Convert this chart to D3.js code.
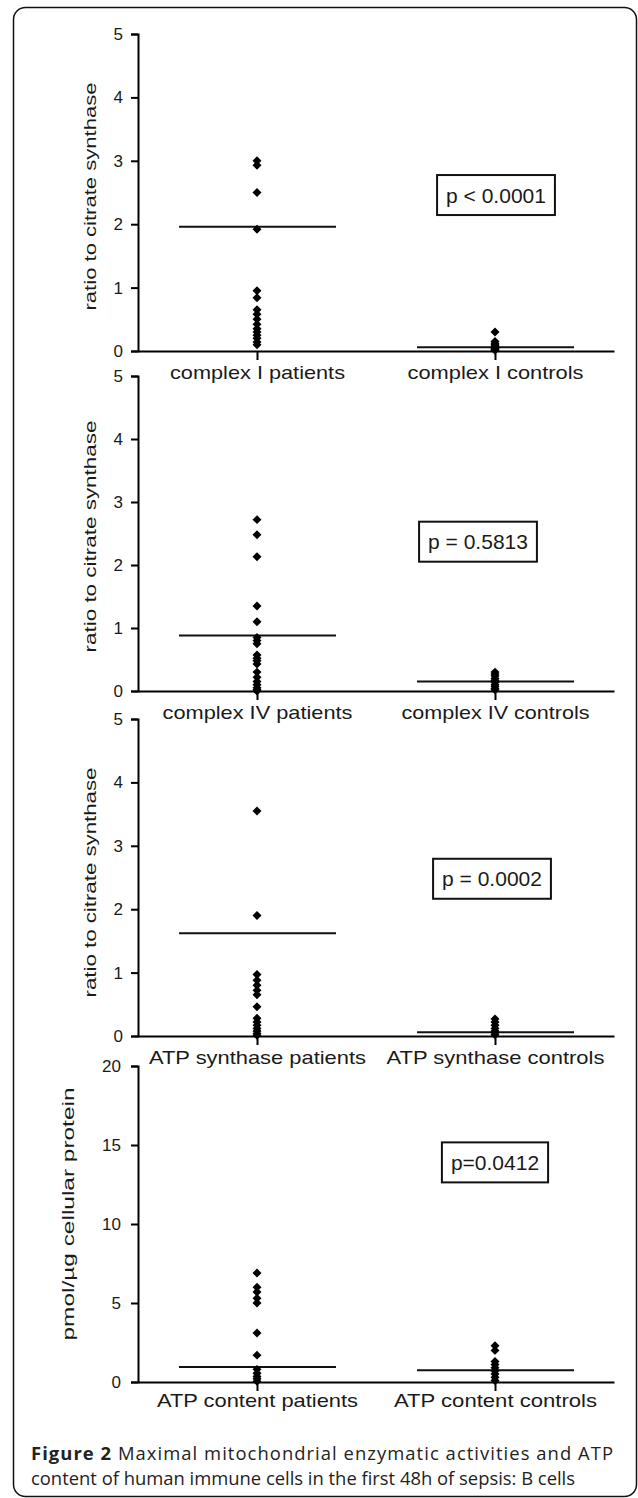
<!DOCTYPE html>
<html>
<head>
<meta charset="utf-8">
<script src="https://cdn.jsdelivr.net/npm/d3@7"></script>
<style>
  body { margin: 0; background: #fff; }
  svg { display: block; }
</style>
</head>
<body>
<div id="chart"></div>
<script>
// data //

const cats1 = ["complex I patients", "complex I controls"];
const cats2 = ["complex IV patients", "complex IV controls"];
const cats3 = ["ATP synthase patients", "ATP synthase controls"];
const cats4 = ["ATP content patients", "ATP content controls"];

const complex1Patients = [3.0, 2.93, 2.5, 1.92, 0.95, 0.84, 0.65, 0.58, 0.5, 0.42, 0.35, 0.3, 0.25, 0.2, 0.14, 0.1];
const complex1Controls = [0.3, 0.15, 0.12, 0.1, 0.08, 0.06, 0.05, 0.04, 0.03, 0.02, 0.01];
const complex4Patients = [2.72, 2.48, 2.13, 1.35, 1.1, 0.85, 0.8, 0.75, 0.57, 0.52, 0.48, 0.43, 0.3, 0.22, 0.15, 0.1, 0.05, 0.02, 0];
const complex4Controls = [0.3, 0.27, 0.24, 0.2, 0.17, 0.14, 0.1, 0.07, 0.04, 0.02];
const atpSynPatients = [3.55, 1.9, 0.97, 0.88, 0.8, 0.72, 0.65, 0.46, 0.28, 0.22, 0.17, 0.12, 0.08, 0.04, 0.01];
const atpSynControls = [0.27, 0.22, 0.17, 0.12, 0.08, 0.05, 0.02];
const atpContPatients = [6.9, 6.0, 5.7, 5.3, 5.0, 3.1, 1.7, 0.8, 0.55, 0.35, 0.2, 0.05];
const atpContControls = [2.3, 2.0, 1.3, 1.1, 0.9, 0.7, 0.5, 0.3, 0.1];

// medians (patients, controls)
const medians1 = [1.96, 0.06];
const medians2 = [0.88, 0.15];
const medians3 = [1.62, 0.06];
const medians4 = [0.95, 0.74];

const ticksRatio = [0, 1, 2, 3, 4, 5];
const ticksAtp = [0, 5, 10, 15, 20];

const pLabels = ["p < 0.0001", "p = 0.5813", "p = 0.0002", "p=0.0412"];
const pAnchors = [2.46, 2.37, 2.48, 13.9];   // y value of box centre

const yTitles = ["ratio to citrate synthase", "ratio to citrate synthase", "ratio to citrate synthase", "pmol/µg cellular protein"];

// layout //

const W = 638, H = 1498;
const axisX = 138, axisRight = 614;
const FONT = "'Liberation Sans', Arial, sans-serif";

const panels = [
  { cats: cats1, pat: complex1Patients, con: complex1Controls, med: medians1, ticks: ticksRatio, top: 34,   bottom: 351,  titleX: 90, titleDy: 4,  titleLen: 228, labW: [175, 176], pDx: 1 },
  { cats: cats2, pat: complex4Patients, con: complex4Controls, med: medians2, ticks: ticksRatio, top: 376,  bottom: 691,  titleX: 90, titleDy: 3,  titleLen: 232, labW: [190, 188], pDx: -17 },
  { cats: cats3, pat: atpSynPatients,   con: atpSynControls,   med: medians3, ticks: ticksRatio, top: 719,  bottom: 1036, titleX: 90, titleDy: 5,  titleLen: 230, labW: [217, 218], pDx: -3 },
  { cats: cats4, pat: atpContPatients,  con: atpContControls,  med: medians4, ticks: ticksAtp,   top: 1066, bottom: 1382, titleX: 68, titleDy: -10, titleLen: 253, labW: [201, 203], pDx: 0 }
];

const svg = d3.select("#chart")
  .append("svg")
    .attr("width", W)
    .attr("height", H);

// outer frame
svg.append("rect")
  .attr("x", 13.5).attr("y", 7.5)
  .attr("width", 623).attr("height", 1489)
  .attr("rx", 12).attr("ry", 12)
  .attr("fill", "none")
  .attr("stroke", "#111")
  .attr("stroke-width", 1.5);

const diamond = d3.symbol().type(d3.symbolSquare).size(40);

panels.forEach((p, k) => {
  const x = d3.scalePoint()
    .domain(p.cats)
    .range([axisX, axisRight])
    .padding(0.5);

  const y = d3.scaleLinear()
    .domain([0, d3.max(p.ticks)])
    .range([p.bottom, p.top]);

  const g = svg.append("g");

  // y axis
  g.append("g")
    .attr("transform", `translate(${axisX},0)`)
    .call(d3.axisLeft(y)
      .tickValues(p.ticks)
      .tickFormat(d3.format("d"))
      .tickSize(7)
      .tickPadding(k === 3 ? 10 : 8))
    .attr("font-family", FONT)
    .attr("font-size", 17)
    .call(a => a.select(".domain").attr("stroke-width", 2))
    .call(a => a.selectAll(".tick line").attr("stroke-width", 2))
    .selectAll(".tick text")
      .attr("fill", "#1a1a1a");

  // x axis
  const xa = g.append("g")
    .attr("transform", `translate(0,${p.bottom})`)
    .call(d3.axisBottom(x)
      .tickSize(9)
      .tickSizeOuter(0)
      .tickPadding(12))
    .attr("font-family", FONT)
    .attr("font-size", 19)
    .call(a => a.select(".domain").attr("stroke-width", 2))
    .call(a => a.selectAll(".tick line").attr("stroke-width", 2));

  xa.selectAll(".tick text")
    .attr("fill", "#1a1a1a")
    .attr("y", k === 3 ? 12 : 15)
    .attr("textLength", (d, i) => p.labW[i])
    .attr("lengthAdjust", "spacingAndGlyphs");

  // y title
  g.append("text")
    .attr("transform", `translate(${p.titleX},${(p.top + p.bottom) / 2 + p.titleDy}) rotate(-90)`)
    .attr("text-anchor", "middle")
    .attr("dy", "0.35em")
    .style("font-family", FONT)
    .style("font-size", "16px")
    .attr("fill", "#1a1a1a")
    .attr("textLength", p.titleLen)
    .attr("lengthAdjust", "spacingAndGlyphs")
    .text(yTitles[k]);

  // median lines
  g.selectAll(".median")
    .data(p.med)
    .join("line")
      .attr("class", "median")
      .attr("x1", (d, i) => x(p.cats[i]) - 78)
      .attr("x2", (d, i) => x(p.cats[i]) + 79)
      .attr("y1", d => y(d))
      .attr("y2", d => y(d))
      .attr("stroke", "#111")
      .attr("stroke-width", 2);

  // points
  const pts = p.pat.map(v => ({ c: p.cats[0], v }))
    .concat(p.con.map(v => ({ c: p.cats[1], v })));

  g.selectAll(".pt")
    .data(pts)
    .join("path")
      .attr("class", "pt")
      .attr("d", diamond)
      .attr("transform", d => `translate(${x(d.c)},${y(d.v)}) rotate(45)`)
      .attr("fill", "#000");

  // p value box
  const cx = x(p.cats[1]) + p.pDx;
  const cy = y(pAnchors[k]);
  const box = g.append("rect");
  const pt = g.append("text")
    .attr("x", cx)
    .attr("y", cy)
    .attr("dy", "0.36em")
    .attr("text-anchor", "middle")
    .style("font-family", FONT)
    .style("font-size", "21px")
    .attr("fill", "#1a1a1a")
    .text(pLabels[k]);
  const tw = pt.node().getComputedTextLength();
  box
    .attr("x", cx - tw / 2 - 9)
    .attr("y", cy - 20)
    .attr("width", tw + 18)
    .attr("height", 40)
    .attr("fill", "none")
    .attr("stroke", "#111")
    .attr("stroke-width", 2);
});

// caption //

const cap = svg.append("text")
  .attr("x", 31)
  .attr("y", 1460)
  .style("font-family", "'Open Sans', sans-serif")
  .style("font-size", "18.4px")
  .attr("fill", "#222")
  .attr("textLength", 582)
  .attr("lengthAdjust", "spacing");
cap.append("tspan").style("font-weight", "bold").text("Figure 2");
cap.append("tspan").text(" Maximal mitochondrial enzymatic activities and ATP");

svg.append("text")
  .attr("x", 31)
  .attr("y", 1485)
  .style("font-family", "'Open Sans', sans-serif")
  .style("font-size", "18.4px")
  .attr("fill", "#222")
  .text("content of human immune cells in the first 48h of sepsis: B cells");
</script>
</body>
</html>
